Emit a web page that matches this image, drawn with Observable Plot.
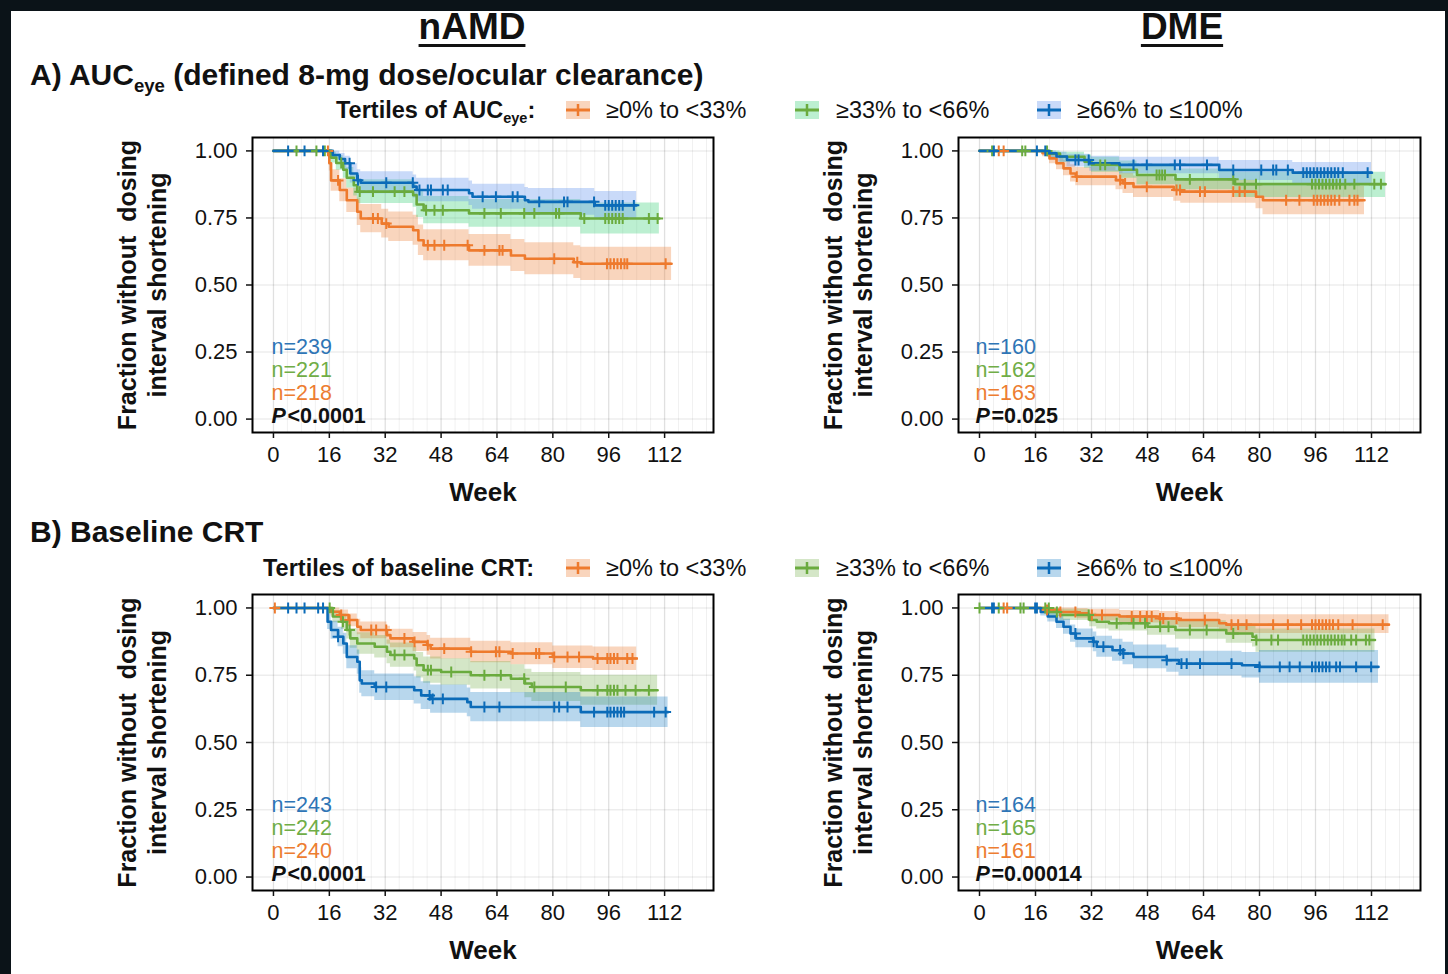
<!DOCTYPE html>
<html><head><meta charset="utf-8">
<script src="https://cdn.jsdelivr.net/npm/d3@7"></script>
<script src="https://cdn.jsdelivr.net/npm/@observablehq/plot@0.6"></script>
<style>
html,body{margin:0;padding:0;background:#0b1318;}
#page{position:relative;width:1448px;height:974px;overflow:hidden;background:#0b1318;font-family:'Liberation Sans',Arial,sans-serif;color:#111;}
#sheet{position:absolute;left:11px;top:11px;width:1434px;height:963px;background:#fff;}
.abs{position:absolute;white-space:nowrap;line-height:1;}
.head{font-weight:bold;font-size:37px;text-decoration:underline;text-underline-offset:5px;text-decoration-thickness:3px;transform:translateX(-50%);}
.sect{font-weight:bold;font-size:30px;}
.leg{font-size:23.5px;}
.legt{font-weight:bold;font-size:23.5px;}
sub{font-size:0.62em;vertical-align:-0.35em;line-height:0;}
.plot{position:absolute;}
</style></head><body>
<div id="page"><div id="sheet"></div></div>
<script>
// ---------- tick values ----------
const weekTicks = [0, 16, 32, 48, 64, 80, 96, 112];
const gridWeeks = [0,4,8,12,16,20,24,28,32,36,40,44,48,52,56,60,64,68,72,76,80,84,88,92,96,100,104,108,112,116,120,124];
const majorWeeks = [0, 16, 32, 48, 64, 80, 96, 112];
const survTicks = [0, 0.25, 0.5, 0.75, 1];

// ---------- legend / labels ----------
const tertileLabels = ["≥0% to <33%", "≥33% to <66%", "≥66% to ≤100%"];
const nAucNamd = [218, 221, 239];   // low, mid, high
const nAucDme  = [163, 162, 160];
const nCrtNamd = [240, 242, 243];
const nCrtDme  = [161, 165, 164];
const pAucNamd = "<0.0001", pAucDme = "=0.025", pCrtNamd = "<0.0001", pCrtDme = "=0.00014";

// ---------- KM steps: [week, survival, lower CI, upper CI] ----------
// A) AUCeye, nAMD
const aucNamdLow = [[0,1,1,1],[16,.954,.925,.982],[16.5,.89,.85,.93],[19,.854,.81,.896],[21,.816,.77,.862],[24,.773,.722,.824],[25,.748,.695,.8],[31,.729,.675,.782],[33,.717,.662,.772],[40,.704,.648,.76],[41.5,.667,.61,.724],[43,.648,.59,.706],[56,.629,.57,.688],[68,.61,.55,.67],[72,.598,.538,.658],[86,.585,.524,.646],[88,.579,.517,.641]];
const aucNamdLowEnd = 114;
const aucNamdLowCens = [15.6,18.5,28.5,29.9,32.3,44.2,46.1,48.9,55.6,60.4,64.7,65.6,80.4,87,95.5,96.5,97.5,98.5,99.5,100.5,101.3,112.3];
const aucNamdMid = [[0,1,1,1],[16.5,.975,.955,.995],[18,.955,.928,.982],[20,.93,.898,.962],[21,.9,.862,.938],[23,.872,.832,.912],[24,.848,.804,.892],[40,.835,.79,.88],[41,.8,.752,.848],[43,.779,.728,.83],[56,.767,.715,.819],[88,.748,.69,.806]];
const aucNamdMidEnd = 110.5;
const aucNamdMidCens = [6.6,12.3,14.7,19.4,24.7,28.5,34.7,37.5,43.7,46.1,48.5,60.4,65.1,71.8,74.7,80.9,81.8,89,95,96,97,98,99,100,107.5,110];
const aucNamdHigh = [[0,1,1,1],[17,.985,.97,1],[19,.97,.948,.99],[20.5,.954,.926,.98],[22,.916,.88,.952],[24,.891,.852,.93],[25,.881,.84,.922],[40,.867,.824,.91],[41,.854,.81,.898],[56,.842,.796,.888],[57,.829,.782,.876],[72,.816,.768,.864],[73,.81,.76,.86],[92,.797,.745,.849]];
const aucNamdHighEnd = 104;
const aucNamdHighCens = [4.2,8.9,14.2,21.8,24.2,32.3,39.9,41.8,44.2,45.1,48.5,49.9,59.9,63.7,68.5,69.9,76.1,83.2,84.2,91.8,95,96,97,98,99,100,103.2];

// A) AUCeye, DME
const aucDmeLow = [[0,1,1,1],[18,.991,.978,1],[20,.972,.952,.992],[22,.954,.93,.978],[24,.935,.907,.963],[26,.916,.884,.948],[27.5,.904,.87,.938],[39,.891,.855,.927],[41,.879,.841,.917],[44,.866,.826,.906],[55.5,.854,.812,.896],[57.5,.848,.805,.891],[79,.829,.784,.874],[81,.816,.762,.868]];
const aucDmeLowEnd = 110;
const aucDmeLowCens = [5.5,6.9,27.8,40.2,41.6,47.8,56.3,57.3,63,64.4,72.5,74.3,75.8,87.6,91.4,95.5,96.5,97.5,98.5,99.5,100.5,101.5,102.8,105.7,107.1,108];
const aucDmeMid = [[0,1,1,1],[20,.99,.975,1],[23,.978,.958,.995],[30,.96,.935,.985],[32,.948,.92,.976],[40,.93,.898,.962],[45,.91,.874,.946],[56,.894,.855,.933],[73,.876,.826,.92]];
const aucDmeMidEnd = 116;
const aucDmeMidCens = [3.6,12.2,13.1,19.3,34.5,35.9,50.6,51.4,52.2,53,60.1,72.5,75.8,79,95,96,97,98,99,100,101,102,103,104.5,107.1,112.8,114.7];
const aucDmeHigh = [[0,1,1,1],[19.5,.991,.975,1],[22,.979,.958,.995],[25,.966,.94,.988],[31.5,.954,.924,.98],[40,.948,.915,.976],[68.5,.929,.89,.964],[89.5,.919,.876,.957]];
const aucDmeHighEnd = 112;
const aucDmeHighCens = [4.1,16.4,18.8,27.4,28.3,31.2,44,47.8,55.8,57.3,65,72.5,80.5,83.9,84.8,88.1,92.5,93.5,94.5,95.5,96.5,97.5,98.5,99.5,100.5,101.5,102.5,103.8,110.9];

// B) Baseline CRT, nAMD
const crtNamdLow = [[0,1,1,1],[16.5,.986,.97,1],[19,.974,.952,.992],[21.5,.955,.93,.978],[24,.93,.9,.958],[25,.918,.886,.948],[32.5,.899,.865,.932],[33.5,.887,.852,.921],[40,.874,.838,.909],[44,.862,.824,.898],[45,.849,.81,.887],[56.5,.837,.796,.876],[68,.831,.789,.871],[80,.818,.775,.859],[91.5,.812,.768,.855]];
const crtNamdLowEnd = 104;
const crtNamdLowCens = [0.4,19.4,21.8,28,29.4,32.3,37.5,40.4,44.2,48.9,56.6,63.7,64.7,68.5,75.2,76.1,80.4,84.2,87.5,92.8,95.6,96.5,97.5,98.5,101.3,102.8];
const crtNamdMid = [[0,1,1,1],[17,.968,.945,.99],[19.5,.949,.92,.978],[21,.918,.885,.951],[22,.887,.85,.924],[24,.868,.828,.908],[29,.856,.814,.898],[32.5,.837,.793,.881],[33.5,.825,.78,.87],[40.3,.812,.766,.858],[41,.787,.74,.834],[43,.769,.72,.818],[48,.762,.713,.811],[56.5,.75,.699,.801],[68,.737,.685,.789],[72,.719,.666,.772],[74,.706,.652,.76],[88,.694,.638,.75]];
const crtNamdMidEnd = 110;
const crtNamdMidCens = [16.1,19.9,21.8,34.7,37.5,44.2,45.1,50.9,60.4,65.1,71.8,74.7,83.7,92.8,95.6,96.5,97.5,98.5,100.8,103.7,107.5];
const crtNamdHigh = [[0,1,1,1],[15.5,.949,.92,.976],[16.5,.918,.884,.951],[18.5,.893,.856,.928],[20,.868,.828,.906],[21,.818,.774,.86],[24,.8,.754,.844],[24.7,.731,.683,.778],[25.3,.719,.67,.767],[29,.706,.656,.755],[40.3,.694,.643,.744],[42.3,.675,.623,.726],[45,.662,.609,.714],[55.5,.65,.596,.703],[56.5,.632,.577,.686],[88,.613,.556,.669]];
const crtNamdHighEnd = 113;
const crtNamdHighCens = [4.2,6.6,8.9,12.8,14.2,18.5,29.4,32.3,44.7,45.6,48.5,60.4,64.7,80.4,81.8,84.2,91.8,95.6,96.5,97.5,98.5,99.5,100.4,109,112.3];

// B) Baseline CRT, DME
const crtDmeLow = [[0,1,1,1],[19,.993,.98,1],[23,.985,.968,1],[28,.98,.96,.998],[31,.974,.952,.995],[40,.968,.944,.991],[51.5,.961,.935,.987],[57,.955,.927,.983],[68.5,.943,.912,.977],[70.5,.938,.905,.975]];
const crtDmeLowEnd = 117;
const crtDmeLowCens = [6.9,7.9,19.3,23.1,27.4,32.1,35,43.5,45.9,47.8,49.2,51.6,52.5,56.3,64.4,72,73.9,76.3,83.9,88.1,91.9,95,96,97,98,99,100,101,102.5,106.6,115.2];
const crtDmeMid = [[0,1,1,1],[20,.985,.968,1],[23,.974,.953,.995],[31.5,.955,.93,.98],[33.5,.949,.922,.976],[37,.943,.914,.972],[48,.93,.899,.962],[56,.918,.884,.952],[70.5,.905,.869,.941],[78,.893,.855,.931],[79,.881,.835,.922]];
const crtDmeMidEnd = 113;
const crtDmeMidCens = [0,5.5,11.7,12.6,18.8,19.8,22.1,31.2,39.2,44,47.3,51.6,54,60.1,64.9,72.5,79.1,83.4,85.3,92.5,93.5,94.5,95.5,96.5,97.5,98.5,99.5,100.5,101.5,102.5,103.5,104.3,106.2,107.6,110.4,111.4];
const crtDmeHigh = [[0,1,1,1],[17.5,.985,.97,1],[19.5,.968,.948,.988],[22,.949,.924,.973],[24,.93,.902,.958],[26,.905,.873,.937],[27.5,.887,.852,.922],[32.5,.874,.837,.911],[33.5,.856,.817,.895],[38,.843,.802,.884],[41,.831,.789,.873],[44,.818,.774,.862],[53.5,.806,.761,.851],[57,.793,.747,.839],[75,.787,.74,.834],[80,.781,.72,.842]];
const crtDmeHighEnd = 114;
const crtDmeHighCens = [3.6,4.1,15.9,16.4,27.4,32.6,35.4,40.2,41.1,53.5,57.7,59.2,63,72,80,85.8,88.6,91.5,95,96,97,98,99,100,101.9,103,107.6,111.9];

// ---------- styling ----------
const FONT = "'Liberation Sans', Arial, sans-serif";
const lineColors = ["#EE7A2D", "#6AAB3E", "#0B6BB8"];
const textColors = ["#ED7D31", "#70AD47", "#2E75B6"];
const bandColorsA = ["#ED7D31", "#2ECC71", "#6495ED"];
const bandColorsB = ["#ED7D31", "#70AD47", "#0070C0"];
const bandOpacA = [0.32, 0.32, 0.35];
const bandOpacB = [0.32, 0.3, 0.28];

const page = document.getElementById("page");

function addDiv(html, cls, left, top) {
  const d = document.createElement("div");
  d.className = "abs " + cls;
  d.innerHTML = html;
  d.style.left = left + "px";
  d.style.top = top + "px";
  page.appendChild(d);
  return d;
}

function survAt(steps, t) {
  let s = steps[0][1];
  for (const r of steps) if (r[0] <= t) s = r[1];
  return s;
}

function curveRows(steps, end) {
  const rows = steps.map(r => ({t: r[0], s: r[1], lo: r[2], hi: r[3]}));
  const last = rows[rows.length - 1];
  rows.push({t: end, s: last.s, lo: last.lo, hi: last.hi});
  return rows;
}

function panel(cfg) {
  const marks = [];
  marks.push(Plot.gridX(gridWeeks, {stroke: "#000", strokeOpacity: 0.06, strokeWidth: 1}));
  marks.push(Plot.gridX(majorWeeks, {stroke: "#000", strokeOpacity: 0.07, strokeWidth: 1.5}));
  marks.push(Plot.gridY(survTicks, {stroke: "#000", strokeOpacity: 0.07, strokeWidth: 1.5}));
  const rows = cfg.curves.map(c => curveRows(c.steps, c.end));
  rows.forEach((r, i) => {
    marks.push(Plot.areaY(r, {x: "t", y1: "lo", y2: "hi", curve: "step-after", fill: cfg.bands[i], fillOpacity: cfg.opac[i]}));
  });
  rows.forEach((r, i) => {
    marks.push(Plot.line(r, {x: "t", y: "s", curve: "step-after", stroke: lineColors[i], strokeWidth: 2.6}));
  });
  cfg.curves.forEach((c, i) => {
    const pts = c.cens.map(t => ({t, s: survAt(c.steps, t)}));
    marks.push(Plot.dot(pts, {x: "t", y: "s", symbol: "plus", r: 3.6, stroke: lineColors[i], strokeWidth: 2}));
  });
  marks.push(Plot.frame({stroke: "#000", strokeWidth: 2}));
  marks.push(Plot.axisX({ticks: weekTicks, tickSize: 6, tickPadding: 8, fontSize: 22, label: null, strokeWidth: 1.5, tickFormat: d => String(d)}));
  marks.push(Plot.axisY({ticks: survTicks, tickSize: 6, tickPadding: 9, fontSize: 22, label: null, strokeWidth: 1.5, tickFormat: d3.format(".2f")}));
  marks.push(Plot.text(["Week"], {frameAnchor: "bottom", lineAnchor: "middle", dy: 60, fontSize: 26, fontWeight: "bold", fill: "#111"}));
  marks.push(Plot.text(["Fraction without  dosing\ninterval shortening"], {frameAnchor: "left", textAnchor: "middle", lineAnchor: "middle", rotate: -90, dx: -111, fontSize: 25, fontWeight: "bold", lineHeight: 1.2, fill: "#111"}));
  const nDy = [-39, -62, -85];
  cfg.n.forEach((v, i) => {
    marks.push(Plot.text(["n=" + v], {frameAnchor: "bottom-left", textAnchor: "start", lineAnchor: "middle", dx: cfg.nDx, dy: nDy[i], fontSize: 21.5, fill: textColors[i]}));
  });
  marks.push(Plot.text(["P"], {frameAnchor: "bottom-left", textAnchor: "start", lineAnchor: "middle", dx: cfg.nDx, dy: -16, fontSize: 21.5, fontWeight: "bold", fontStyle: "italic", fill: "#111"}));
  marks.push(Plot.text([cfg.p], {frameAnchor: "bottom-left", textAnchor: "start", lineAnchor: "middle", dx: cfg.nDx + 16, dy: -16, fontSize: 21.5, fontWeight: "bold", fill: "#111"}));

  const svg = Plot.plot({
    width: cfg.width, height: cfg.height,
    marginLeft: cfg.mL, marginRight: cfg.mR, marginTop: cfg.mT, marginBottom: cfg.mB,
    x: {domain: [-6, 126]},
    y: {domain: [-0.05, 1.05]},
    style: {fontFamily: FONT, fontSize: "22px", color: "#111", background: "transparent", overflow: "visible"},
    marks
  });
  const wrap = document.createElement("div");
  wrap.className = "plot";
  wrap.style.left = cfg.left + "px";
  wrap.style.top = cfg.top + "px";
  wrap.appendChild(svg);
  page.appendChild(wrap);
}

const curvesOf = (l, le, lc, m, me, mc, h, he, hc) => [
  {steps: l, end: le, cens: lc}, {steps: m, end: me, cens: mc}, {steps: h, end: he, cens: hc}];

panel({left: 100, top: 130, width: 625, height: 380, mL: 152, mR: 12, mT: 7, mB: 78, nDx: 19,
  curves: curvesOf(aucNamdLow, aucNamdLowEnd, aucNamdLowCens, aucNamdMid, aucNamdMidEnd, aucNamdMidCens, aucNamdHigh, aucNamdHighEnd, aucNamdHighCens),
  bands: bandColorsA, opac: bandOpacA, n: nAucNamd, p: pAucNamd});
panel({left: 800, top: 130, width: 630, height: 380, mL: 158, mR: 10, mT: 7, mB: 78, nDx: 17,
  curves: curvesOf(aucDmeLow, aucDmeLowEnd, aucDmeLowCens, aucDmeMid, aucDmeMidEnd, aucDmeMidCens, aucDmeHigh, aucDmeHighEnd, aucDmeHighCens),
  bands: bandColorsA, opac: bandOpacA, n: nAucDme, p: pAucDme});
panel({left: 100, top: 587, width: 625, height: 380, mL: 152, mR: 12, mT: 7, mB: 77, nDx: 19,
  curves: curvesOf(crtNamdLow, crtNamdLowEnd, crtNamdLowCens, crtNamdMid, crtNamdMidEnd, crtNamdMidCens, crtNamdHigh, crtNamdHighEnd, crtNamdHighCens),
  bands: bandColorsB, opac: bandOpacB, n: nCrtNamd, p: pCrtNamd});
panel({left: 800, top: 587, width: 630, height: 380, mL: 158, mR: 10, mT: 7, mB: 77, nDx: 17,
  curves: curvesOf(crtDmeLow, crtDmeLowEnd, crtDmeLowCens, crtDmeMid, crtDmeMidEnd, crtDmeMidCens, crtDmeHigh, crtDmeHighEnd, crtDmeHighCens),
  bands: bandColorsB, opac: bandOpacB, n: nCrtDme, p: pCrtDme});

// ---------- titles ----------
addDiv("nAMD", "head", 472, 8);
addDiv("DME", "head", 1182, 8);
addDiv("A) AUC<sub>eye</sub> (defined 8-mg dose/ocular clearance)", "sect", 30, 60);
addDiv("B) Baseline CRT", "sect", 30, 517);

// ---------- legends ----------
function keySvg(i, fills, opac) {
  return `<svg width="26" height="20" style="display:block"><rect x="1" y="1" width="24" height="18" fill="${fills[i]}" fill-opacity="${opac[i]}"/>` +
    `<line x1="1" x2="25" y1="10" y2="10" stroke="${lineColors[i]}" stroke-width="3"/>` +
    `<line x1="13" x2="13" y1="4" y2="16" stroke="${lineColors[i]}" stroke-width="2.5"/></svg>`;
}
function legend(title, top, fills, opac, titleLeft) {
  addDiv(title, "legt", titleLeft, top);
  const keyX = [565, 794, 1036], txtX = [606, 836, 1077];
  tertileLabels.forEach((lab, i) => {
    addDiv(keySvg(i, fills, opac), "", keyX[i], top + 1);
    addDiv(lab, "leg", txtX[i], top);
  });
}
legend("Tertiles of AUC<sub>eye</sub>:", 99, bandColorsA, bandOpacA, 336);
legend("Tertiles of baseline CRT:", 557, bandColorsB, bandOpacB, 263);
</script></body></html>
